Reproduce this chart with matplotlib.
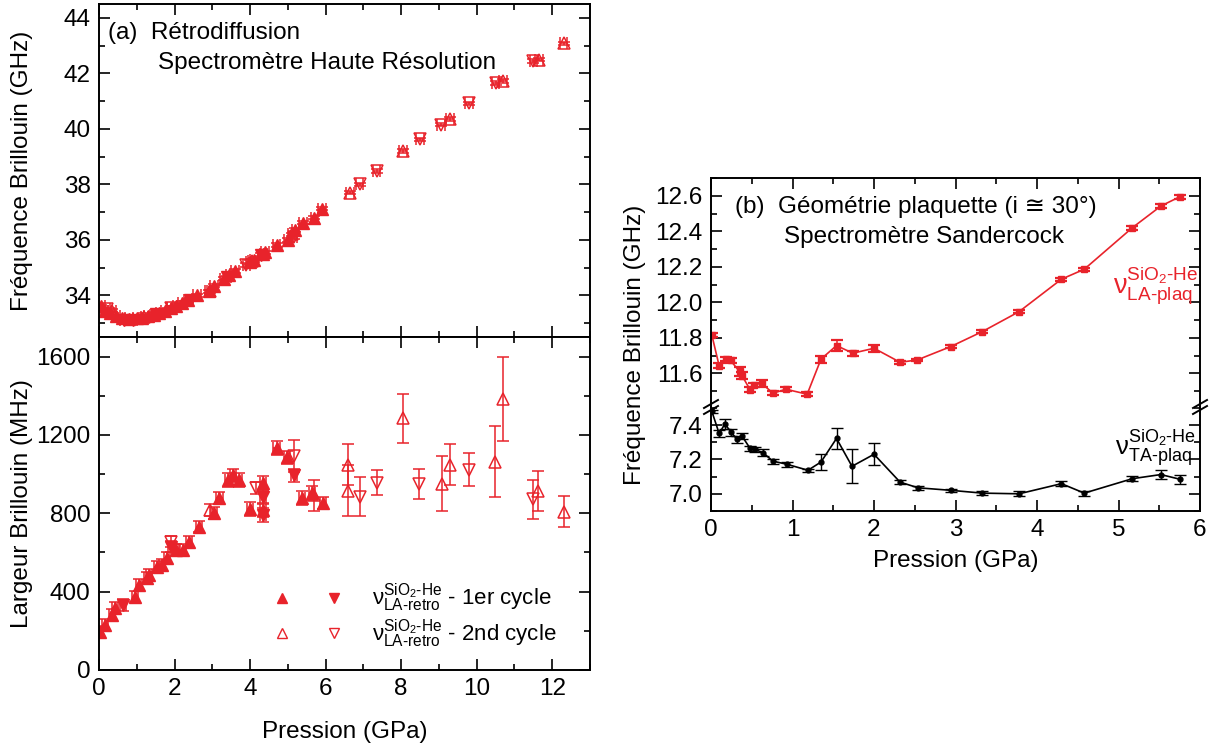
import matplotlib
matplotlib.use("Agg")
import matplotlib.pyplot as plt
from matplotlib.ticker import MultipleLocator
from matplotlib.lines import Line2D
from matplotlib.legend_handler import HandlerTuple

plt.rcParams['font.family'] = ['Liberation Sans', 'DejaVu Sans']
plt.rcParams['mathtext.fontset'] = 'custom'
plt.rcParams['mathtext.rm'] = 'Liberation Sans'
plt.rcParams['mathtext.it'] = 'Liberation Sans:italic'
plt.rcParams['mathtext.bf'] = 'Liberation Sans:bold'

RED = '#E8232B'

# ---------------- Panel (a) top: Brillouin frequency (GHz) ----------------
fa_up1_P = [0.05, 0.15, 0.3, 0.45, 0.6, 0.8, 1.0, 1.15, 1.3, 1.45, 1.6, 1.75, 1.9, 2.05,
            2.2, 2.35, 2.6, 2.9, 3.05, 3.3, 3.45, 3.6, 4.0, 4.1, 4.35, 4.4, 4.7, 5.0,
            5.2, 5.4, 5.7, 5.9]
fa_up1_F = [33.6, 33.45, 33.35, 33.25, 33.2, 33.15, 33.17, 33.2, 33.25, 33.3, 33.38, 33.45,
            33.55, 33.62, 33.72, 33.82, 34.0, 34.15, 34.35, 34.6, 34.72, 34.88, 35.2, 35.27,
            35.5, 35.55, 35.82, 36.0, 36.35, 36.62, 36.8, 37.12]
fa_dn1_P = [0.65, 0.9, 1.5, 2.4, 3.4, 4.3]
fa_dn1_F = [33.12, 33.13, 33.33, 33.85, 34.65, 35.45]
fa_up2_P = [0.35, 1.2, 2.95, 4.05, 5.1, 6.65, 8.05, 9.3, 10.7, 11.65, 12.3]
fa_up2_F = [33.45, 33.22, 34.15, 35.25, 36.2, 37.7, 39.2, 40.35, 41.72, 42.5, 43.08]
fa_dn2_P = [0.2, 1.9, 3.9, 5.15, 6.9, 7.35, 8.5, 9.05, 9.8, 10.5, 11.5]
fa_dn2_F = [33.5, 33.55, 35.1, 36.1, 38.0, 38.48, 39.62, 40.15, 40.92, 41.65, 42.45]

# ---------------- Panel (a) bottom: Brillouin width (MHz) ----------------
wa_up1_P = [0.03, 0.16, 0.34, 0.42, 0.95, 1.07, 1.28, 1.33, 1.53, 1.66, 1.79, 2.04, 2.23,
            2.39, 2.66, 3.04, 3.19, 3.42, 3.54, 3.71, 4.0, 4.35, 4.33, 4.7, 4.97, 5.37,
            5.65, 5.92]
wa_up1_W = [196, 230, 281, 315, 375, 434, 468, 485, 528, 536, 571, 613, 613,
            656, 732, 800, 877, 971, 993, 971, 821, 954, 817, 1133, 1085, 877,
            903, 852]
wa_up1_E = [30, 30, 30, 30, 30, 30, 30, 30, 30, 30, 30, 30, 30,
            30, 30, 30, 30, 35, 35, 35, 35, 35, 35, 35, 35, 35,
            35, 30]
wa_dn1_P = [0.64, 1.91, 4.33, 4.35, 5.16]
wa_dn1_W = [332, 630, 885, 792, 993]
wa_dn1_E = [30, 30, 35, 35, 35]
wa_up2_P = [2.94, 5.69, 6.60, 6.60, 8.06, 9.07, 9.29, 10.48, 10.69, 11.63, 12.31]
wa_up2_W = [817, 891, 1047, 914, 1286, 950, 1047, 1064, 1383, 914, 809]
wa_up2_E = [30, 80, 105, 130, 125, 140, 105, 183, 215, 100, 78]
wa_dn2_P = [1.91, 4.16, 5.15, 6.91, 7.35, 8.48, 9.80, 11.48]
wa_dn2_W = [656, 928, 1093, 885, 957, 950, 1022, 872]
wa_dn2_E = [30, 30, 82, 100, 63, 76, 85, 100]

# ---------------- Panel (b): plaquette geometry ----------------
la_P = [0.01, 0.10, 0.18, 0.24, 0.35, 0.38, 0.48, 0.53, 0.62, 0.76, 0.92, 1.18, 1.35,
        1.54, 1.74, 2.00, 2.32, 2.53, 2.94, 3.33, 3.78, 4.30, 4.58, 5.17, 5.52, 5.75]
la_F = [11.816, 11.642, 11.681, 11.672, 11.61, 11.587, 11.507, 11.535, 11.544, 11.488,
        11.51, 11.482, 11.68, 11.756, 11.713, 11.741, 11.662, 11.675, 11.75, 11.835,
        11.947, 12.13, 12.186, 12.42, 12.542, 12.594]
la_E = [0.01, 0.015, 0.012, 0.012, 0.025, 0.02, 0.015, 0.012, 0.02, 0.012, 0.012, 0.01,
        0.02, 0.03, 0.015, 0.02, 0.008, 0.008, 0.008, 0.008, 0.01, 0.008, 0.008, 0.012,
        0.012, 0.01]
ta_P = [0.01, 0.10, 0.17, 0.25, 0.32, 0.38, 0.48, 0.54, 0.64, 0.76, 0.93, 1.19, 1.35,
        1.54, 1.73, 2.00, 2.32, 2.54, 2.95, 3.33, 3.78, 4.30, 4.58, 5.17, 5.52, 5.76]
ta_F = [7.48, 7.351, 7.406, 7.357, 7.316, 7.336, 7.264, 7.258, 7.238, 7.19, 7.172, 7.137,
        7.185, 7.322, 7.16, 7.23, 7.068, 7.035, 7.02, 7.004, 7.0, 7.059, 7.004, 7.088,
        7.112, 7.084]
ta_E = [0.01, 0.02, 0.03, 0.02, 0.02, 0.02, 0.015, 0.015, 0.02, 0.015, 0.015, 0.01,
        0.045, 0.06, 0.1, 0.065, 0.01, 0.01, 0.01, 0.01, 0.015, 0.015, 0.015, 0.015,
        0.025, 0.025]

W, H = 1216, 745
fig = plt.figure(figsize=(W / 100, H / 100), dpi=100)


def frac(left, top, right, bottom):
    return [left / W, 1 - bottom / H, (right - left) / W, (bottom - top) / H]


axA1 = fig.add_axes(frac(99, 4, 590, 337))
axA2 = fig.add_axes(frac(99, 337, 590, 670))
axB1 = fig.add_axes(frac(711, 178, 1200, 407))
axB2 = fig.add_axes(frac(711, 407, 1200, 511))

FS = 17.5


def style(ax):
    ax.tick_params(which='both', direction='in', top=True, right=True,
                   labelsize=FS, width=1.2, pad=6)
    ax.tick_params(which='major', length=8)
    ax.tick_params(which='minor', length=4)
    for s in ax.spines.values():
        s.set_linewidth(1.4)


for ax in (axA1, axA2, axB1, axB2):
    style(ax)

ebkw = dict(ls='none', ecolor=RED, elinewidth=1.1, capsize=4.5, capthick=1.1)

# (a) top
axA1.errorbar(fa_up1_P, fa_up1_F, xerr=0.1, yerr=0.06, marker='^', ms=8.5, mfc=RED, mec=RED, **ebkw)
axA1.errorbar(fa_dn1_P, fa_dn1_F, xerr=0.1, yerr=0.06, marker='v', ms=8.5, mfc=RED, mec=RED, **ebkw)
axA1.errorbar(fa_up2_P, fa_up2_F, xerr=0.1, yerr=0.06, marker='^', ms=8.5, mfc='none', mec=RED, mew=1.1, **ebkw)
axA1.errorbar(fa_dn2_P, fa_dn2_F, xerr=0.1, yerr=0.06, marker='v', ms=8.5, mfc='none', mec=RED, mew=1.1, **ebkw)
axA1.set_xlim(0, 13)
axA1.set_ylim(32.5, 44.5)
axA1.xaxis.set_major_locator(MultipleLocator(2))
axA1.xaxis.set_minor_locator(MultipleLocator(1))
axA1.yaxis.set_major_locator(MultipleLocator(2))
axA1.yaxis.set_minor_locator(MultipleLocator(1))
axA1.set_yticks([34, 36, 38, 40, 42, 44])
axA1.tick_params(labelbottom=False)
axA1.set_ylabel('Fréquence Brillouin (GHz)', fontsize=FS)
axA1.yaxis.set_label_coords(-0.134, 0.5)
axA1.text(0.018, 0.913, '(a)  Rétrodiffusion', transform=axA1.transAxes, fontsize=FS, va='center')
axA1.text(0.12, 0.823, 'Spectromètre Haute Résolution', transform=axA1.transAxes, fontsize=FS, va='center')

# (a) bottom
axA2.errorbar(wa_up1_P, wa_up1_W, xerr=0.08, yerr=wa_up1_E, marker='^', ms=9, mfc=RED, mec=RED, **ebkw)
axA2.errorbar(wa_dn1_P, wa_dn1_W, xerr=0.08, yerr=wa_dn1_E, marker='v', ms=9, mfc=RED, mec=RED, **ebkw)
axA2.errorbar(wa_up2_P, wa_up2_W, yerr=wa_up2_E, marker='^', ms=9, mfc='none', mec=RED, mew=1.1, **ebkw)
axA2.errorbar(wa_dn2_P, wa_dn2_W, yerr=wa_dn2_E, marker='v', ms=9, mfc='none', mec=RED, mew=1.1, **ebkw)
axA2.set_xlim(0, 13)
axA2.set_ylim(0, 1700)
axA2.xaxis.set_major_locator(MultipleLocator(2))
axA2.xaxis.set_minor_locator(MultipleLocator(1))
axA2.yaxis.set_major_locator(MultipleLocator(400))
axA2.yaxis.set_minor_locator(MultipleLocator(200))
axA2.set_ylabel('Largeur Brillouin (MHz)', fontsize=FS)
axA2.yaxis.set_label_coords(-0.134, 0.5)
axA2.set_xlabel('Pression (GPa)', fontsize=FS, labelpad=15)

NU = r'\mathrm{ν}'
lg_up1 = Line2D([], [], ls='none', marker='^', ms=7, color=RED)
lg_dn1 = Line2D([], [], ls='none', marker='v', ms=7, color=RED)
lg_up2 = Line2D([], [], ls='none', marker='^', ms=7, mfc='none', mec=RED, mew=1.0)
lg_dn2 = Line2D([], [], ls='none', marker='v', ms=7, mfc='none', mec=RED, mew=1.0)
lab1 = r'$' + NU + r'^{\mathrm{SiO_2}\text{-He}}_{\text{LA-retro}}$ - 1er cycle'
lab2 = r'$' + NU + r'^{\mathrm{SiO_2}\text{-He}}_{\text{LA-retro}}$ - 2nd cycle'
axA2.legend([(lg_up1, lg_dn1), (lg_up2, lg_dn2)], [lab1, lab2],
            handler_map={tuple: HandlerTuple(ndivide=None, pad=0.5)},
            loc='lower left', bbox_to_anchor=(0.33, 0.06), frameon=False,
            fontsize=16, handlelength=4.2, handletextpad=0.8, labelspacing=0.15,
            borderpad=0, borderaxespad=0, numpoints=1)

# (b)
axB1.errorbar(la_P, la_F, yerr=la_E, color=RED, marker='s', ms=4, lw=1.2,
              ecolor=RED, elinewidth=1.1, capsize=4.5, capthick=1.6)
axB2.errorbar(ta_P, ta_F, yerr=ta_E, color='black', marker='o', ms=3.5, lw=1.2,
              ecolor='black', elinewidth=1.0, capsize=4.5, capthick=1.0)
for ax in (axB1, axB2):
    ax.set_xlim(0, 6)
    ax.xaxis.set_major_locator(MultipleLocator(1))
    ax.xaxis.set_minor_locator(MultipleLocator(0.5))
    ax.yaxis.set_major_locator(MultipleLocator(0.2))
    ax.yaxis.set_minor_locator(MultipleLocator(0.1))
axB1.set_ylim(11.41, 12.7)
axB2.set_ylim(6.9, 7.505)
axB1.set_yticks([11.6, 11.8, 12.0, 12.2, 12.4, 12.6])
axB1.set_yticklabels(['11.6', '11.8', '12.0', '12.2', '12.4', '12.6'])
axB2.set_yticks([7.0, 7.2, 7.4])
axB2.set_yticklabels(['7.0', '7.2', '7.4'])
axB1.spines['bottom'].set_visible(False)
axB2.spines['top'].set_visible(False)
axB1.tick_params(which='both', bottom=False, labelbottom=False)
axB2.tick_params(which='both', top=False)
axB2.set_xlabel('Pression (GPa)', fontsize=FS, labelpad=6)
fig.text(635 / W, 1 - 345 / H, 'Fréquence Brillouin (GHz)', rotation=90, fontsize=FS,
         ha='center', va='center')

axB1.text(0.049, 0.873, '(b)  Géométrie plaquette (i ≅ 30°)', transform=axB1.transAxes,
          fontsize=FS, va='center')
axB1.text(0.149, 0.744, 'Spectromètre Sandercock', transform=axB1.transAxes,
          fontsize=FS, va='center')
axB1.text(0.822, 0.53, r'$' + NU + r'^{\mathrm{SiO_2}\text{-He}}_{\text{LA-plaq}}$', transform=axB1.transAxes,
          fontsize=FS + 2, va='center', color=RED)
axB2.text(0.826, 0.60, r'$' + NU + r'^{\mathrm{SiO_2}\text{-He}}_{\text{TA-plaq}}$', transform=axB2.transAxes,
          fontsize=FS + 1, va='center', color='black')

# break marks on axis (b)
for xpix in (711, 1200):
    for dy in (-3, 3):
        x0, x1 = xpix - 7, xpix + 7
        y0, y1 = 407 + dy + 4, 407 + dy - 4
        fig.add_artist(Line2D([x0 / W, x1 / W], [1 - y0 / H, 1 - y1 / H],
                              transform=fig.transFigure, color='black', lw=1.4))

fig.savefig('out.png', dpi=100)
